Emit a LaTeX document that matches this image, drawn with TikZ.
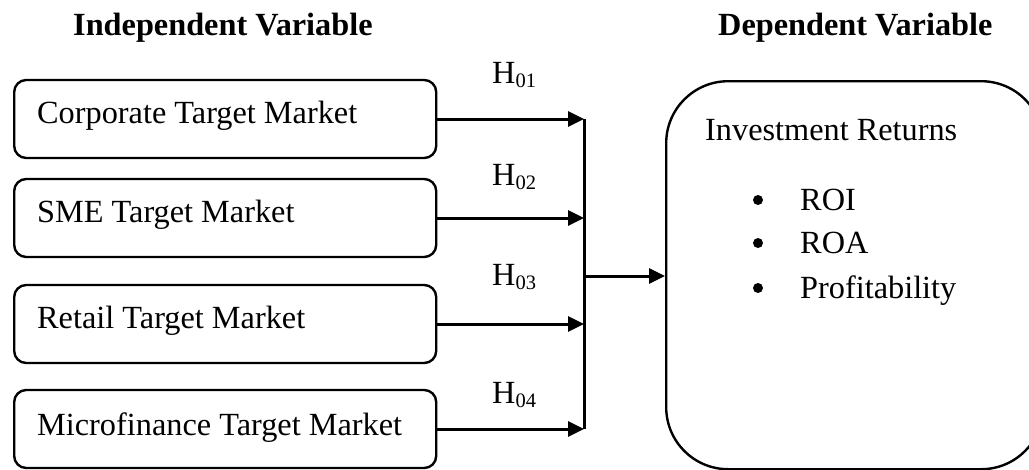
\documentclass[tikz,border=0pt]{standalone}
\usepackage{fontspec}
\setmainfont{Liberation Serif}
\usetikzlibrary{arrows.meta}
\begin{document}
\begin{tikzpicture}[x=1pt,y=-1pt,
  every node/.style={font=\fontsize{32.3}{38}\selectfont, inner sep=0pt},
  ivbox/.style={draw, line width=2.4pt, rounded corners=12pt, minimum width=422pt, minimum height=78pt, anchor=west},
  depbox/.style={draw, line width=2.4pt, rounded corners=62pt, minimum width=377pt, minimum height=388pt, anchor=north west},
  arr/.style={line width=3pt, -{Triangle[length=16pt,width=15pt]}},
  trunk/.style={line width=3pt},
  hd/.style={font=\fontsize{32.3}{38}\selectfont\bfseries, anchor=base west},
  hl/.style={anchor=base west},
  bul/.style={circle, fill, minimum size=10pt}
]
\useasboundingbox (0,0) rectangle (1029,469);

% headings
\node[hd] (ih) at (73,35) {Independent Variable};
\node[hd] (dh) at (718,35) {Dependent Variable};

% independent variable boxes
\node[ivbox] (b1) at (13,119) {};
\node[ivbox] (b2) at (13,218) {};
\node[ivbox] (b3) at (13,324) {};
\node[ivbox] (b4) at (13,429) {};
\node[hl] (t1) at (37,123) {Corporate Target Market};
\node[hl] (t2) at (37,222) {SME Target Market};
\node[hl] (t3) at (37,328) {Retail Target Market};
\node[hl] (t4) at (37,435) {Microfinance Target Market};

% dependent variable box
\node[depbox] (dep) at (665,80) {};
\node[hl] (ir) at (705,140) {Investment Returns};
\node[bul] (d1) at (758,200) {};
\node[hl] (r1) at (800,210) {ROI};
\node[bul] (d2) at (758,243) {};
\node[hl] (r2) at (800,253) {ROA};
\node[bul] (d3) at (758,288) {};
\node[hl] (r3) at (800,298) {Profitability};

% hypothesis labels
\node[hl] (h1) at (492,83) {H\raisebox{-4pt}{\fontsize{20.5}{20}\selectfont 01}};
\node[hl] (h2) at (492,185) {H\raisebox{-4pt}{\fontsize{20.5}{20}\selectfont 02}};
\node[hl] (h3) at (492,285) {H\raisebox{-4pt}{\fontsize{20.5}{20}\selectfont 03}};
\node[hl] (h4) at (492,403) {H\raisebox{-4pt}{\fontsize{20.5}{20}\selectfont 04}};

% connectors
\coordinate (jx) at (584,0);
\coordinate (jm) at (584,276);
\draw[trunk] (b1.east -| jx) -- (b4.east -| jx);
\draw[arr] (b1.east) -- (b1.east -| jx);
\draw[arr] (b2.east) -- (b2.east -| jx);
\draw[arr] (b3.east) -- (b3.east -| jx);
\draw[arr] (b4.east) -- (b4.east -| jx);
\draw[arr] (jm) -- (jm -| dep.west);
\end{tikzpicture}
\end{document}
